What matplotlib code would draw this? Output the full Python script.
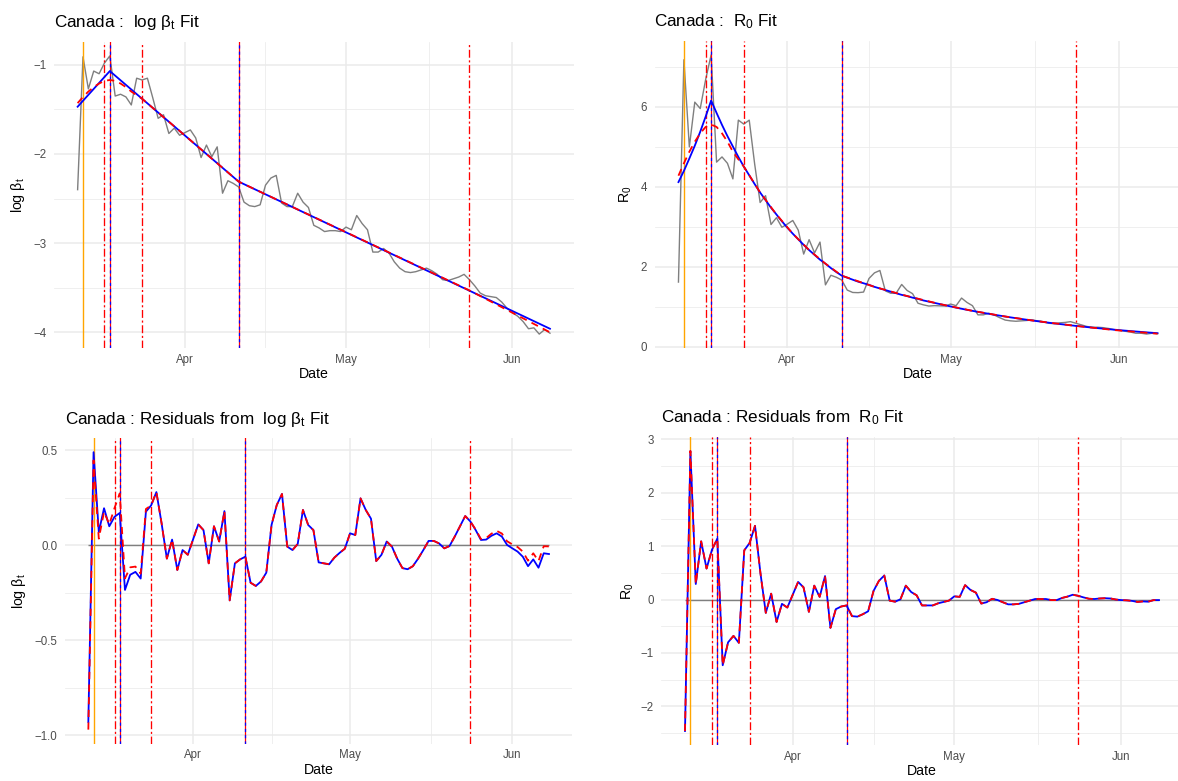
import numpy as np
import pandas as pd
import matplotlib
matplotlib.use("Agg")
import matplotlib.pyplot as plt
import matplotlib.dates as mdates
from matplotlib.ticker import FixedLocator, MultipleLocator, FuncFormatter

plt.rcParams["font.family"] = ["Liberation Sans", "DejaVu Sans"]
plt.rcParams["mathtext.fontset"] = "custom"
plt.rcParams["mathtext.rm"] = "Liberation Sans"
plt.rcParams["mathtext.it"] = "Liberation Sans:italic"
plt.rcParams["mathtext.bf"] = "Liberation Sans:bold"

country = "Canada"
start_date = "2020-03-12"
n_days = 89

# observed log beta_t, one value per day from Mar 12 to Jun 8
log_beta_obs = [
    -2.40, -0.91, -1.27, -1.07, -1.10, -0.98, -0.90, -1.35, -1.33, -1.36,
    -1.45, -1.15, -1.17, -1.15, -1.37, -1.60, -1.56, -1.77, -1.71, -1.79,
    -1.76, -1.73, -1.82, -2.04, -1.90, -2.03, -1.92, -2.44, -2.30, -2.33,
    -2.37, -2.54, -2.58, -2.59, -2.57, -2.35, -2.27, -2.24, -2.55, -2.59,
    -2.59, -2.44, -2.54, -2.60, -2.80, -2.83, -2.87, -2.86, -2.86, -2.87,
    -2.82, -2.85, -2.69, -2.78, -2.85, -3.10, -3.10, -3.06, -3.11, -3.21,
    -3.28, -3.32, -3.33, -3.32, -3.30, -3.28, -3.31, -3.35, -3.41, -3.42,
    -3.40, -3.38, -3.35, -3.41, -3.48, -3.56, -3.59, -3.60, -3.61, -3.66,
    -3.73, -3.78, -3.82, -3.88, -3.96, -3.95, -4.02, -3.97, -4.01,
]

# fitted log beta_t (blue: piecewise linear, red: smooth fit), knots in day offsets
blue_knot_days = [0, 6, 30, 88]
blue_knot_log = [-1.47, -1.07, -2.31, -3.96]
red_knot_days = [0, 1, 2, 3, 4, 5, 6, 7, 8, 9, 10, 11, 12, 30, 73, 88]
red_knot_log = [-1.43, -1.36, -1.30, -1.25, -1.21, -1.18, -1.17, -1.18,
                -1.21, -1.25, -1.30, -1.34, -1.38, -2.31, -3.53, -4.00]

# observed R0
r0_obs = [
    1.62, 7.18, 5.00, 6.12, 5.96, 6.69, 7.30, 4.62, 4.75, 4.59,
    4.20, 5.67, 5.57, 5.67, 4.57, 3.61, 3.78, 3.06, 3.23, 2.99,
    3.07, 3.16, 2.92, 2.32, 2.68, 2.35, 2.62, 1.55, 1.79, 1.74,
    1.67, 1.42, 1.36, 1.355, 1.37, 1.71, 1.85, 1.91, 1.40, 1.34,
    1.345, 1.56, 1.41, 1.33, 1.09, 1.05, 1.02, 1.03, 1.025, 1.02,
    1.07, 1.03, 1.22, 1.11, 1.03, 0.80, 0.80, 0.84, 0.795, 0.73,
    0.67, 0.65, 0.64, 0.65, 0.66, 0.67, 0.65, 0.63, 0.59, 0.58,
    0.60, 0.61, 0.63, 0.59, 0.55, 0.51, 0.49, 0.49, 0.48, 0.46,
    0.43, 0.41, 0.39, 0.37, 0.34, 0.34, 0.32, 0.34, 0.33,
]

# fitted R0 (blue), one value per day
r0_fit_blue = [
    4.12, 4.40, 4.71, 5.03, 5.38, 5.76, 6.16, 5.85, 5.55, 5.27,
    5.01, 4.75, 4.51, 4.29, 4.07, 3.86, 3.67, 3.48, 3.31, 3.14,
    2.98, 2.83, 2.69, 2.55, 2.42, 2.30, 2.18, 2.08, 1.97, 1.87,
    1.78, 1.73, 1.68, 1.63, 1.59, 1.55, 1.50, 1.46, 1.42, 1.38,
    1.34, 1.30, 1.27, 1.23, 1.20, 1.16, 1.13, 1.10, 1.07, 1.04,
    1.01, 0.98, 0.953, 0.926, 0.900, 0.875, 0.850, 0.826, 0.803, 0.781,
    0.759, 0.737, 0.717, 0.697, 0.677, 0.658, 0.640, 0.622, 0.604, 0.587,
    0.571, 0.555, 0.539, 0.524, 0.510, 0.495, 0.481, 0.468, 0.455, 0.442,
    0.430, 0.418, 0.406, 0.395, 0.384, 0.373, 0.362, 0.352, 0.342,
]

# fitted R0 (red), at selected day offsets
r0_red_days = [0, 1, 2, 3, 4, 5, 6, 7, 8, 9, 10, 11, 12, 15, 18, 21, 24, 27,
               30, 36, 42, 48, 54, 60, 66, 73, 80, 88]
r0_fit_red = [4.28, 4.59, 4.88, 5.13, 5.34, 5.50, 5.56, 5.50, 5.34, 5.13,
              4.88, 4.69, 4.51, 3.86, 3.31, 2.83, 2.42, 2.08, 1.78, 1.50,
              1.27, 1.07, 0.90, 0.759, 0.640, 0.524, 0.420, 0.328]

# residuals from log beta_t fits
resid_log_blue = [
    -0.93, 0.49, 0.07, 0.195, 0.10, 0.15, 0.17, -0.235, -0.155, -0.14,
    -0.175, 0.177, 0.21, 0.28, 0.115, -0.07, 0.03, -0.13, -0.025, -0.05,
    0.03, 0.11, 0.08, -0.095, 0.10, 0.02, 0.18, -0.29, -0.095, -0.074,
    -0.06, -0.197, -0.214, -0.19, -0.144, 0.107, 0.212, 0.27, -0.007, -0.025,
    0.007, 0.186, 0.107, 0.08, -0.09, -0.095, -0.10, -0.065, -0.04, -0.018,
    0.063, 0.054, 0.247, 0.186, 0.14, -0.083, -0.05, 0.02, -0.007, -0.07,
    -0.12, -0.126, -0.11, -0.07, -0.025, 0.023, 0.023, 0.01, -0.016, -0.004,
    0.046, 0.10, 0.154, 0.125, 0.08, 0.028, 0.03, 0.05, 0.063, 0.046,
    0.002, -0.016, -0.033, -0.06, -0.11, -0.074, -0.118, -0.042, -0.046,
]
resid_log_red = [
    -0.97, 0.447, 0.035, 0.176, 0.11, 0.196, 0.273, -0.174, -0.116, -0.112,
    -0.149, 0.191, 0.21, 0.28, 0.115, -0.07, 0.03, -0.13, -0.025, -0.05,
    0.03, 0.11, 0.08, -0.095, 0.10, 0.02, 0.18, -0.29, -0.095, -0.074,
    -0.06, -0.197, -0.214, -0.19, -0.144, 0.107, 0.212, 0.27, -0.007, -0.025,
    0.007, 0.186, 0.107, 0.08, -0.09, -0.095, -0.10, -0.065, -0.04, -0.018,
    0.063, 0.054, 0.247, 0.186, 0.14, -0.083, -0.05, 0.02, -0.007, -0.07,
    -0.12, -0.126, -0.11, -0.07, -0.025, 0.023, 0.023, 0.01, -0.016, -0.004,
    0.046, 0.10, 0.154, 0.125, 0.083, 0.033, 0.038, 0.061, 0.076, 0.062,
    0.021, 0.005, -0.009, -0.033, -0.081, -0.042, -0.083, -0.005, -0.006,
]

# residuals from R0 fit (both fits give the same curve here)
resid_r0 = [
    -2.46, 2.78, 0.29, 1.09, 0.58, 0.93, 1.14, -1.23, -0.80, -0.68,
    -0.81, 0.92, 1.06, 1.38, 0.50, -0.25, 0.11, -0.42, -0.08, -0.15,
    0.09, 0.33, 0.23, -0.23, 0.26, 0.05, 0.44, -0.53, -0.18, -0.13,
    -0.11, -0.31, -0.32, -0.275, -0.22, 0.16, 0.35, 0.45, -0.02, -0.04,
    0.005, 0.26, 0.14, 0.08, -0.11, -0.11, -0.11, -0.07, -0.045, -0.02,
    0.06, 0.05, 0.27, 0.18, 0.13, -0.075, -0.05, 0.014, -0.008, -0.05,
    -0.09, -0.09, -0.08, -0.05, -0.02, 0.01, 0.01, 0.01, -0.01, -0.01,
    0.03, 0.055, 0.09, 0.07, 0.04, 0.015, 0.01, 0.02, 0.025, 0.02,
    0.0, -0.01, -0.015, -0.025, -0.045, -0.035, -0.04, -0.01, -0.01,
]

# event / breakpoint dates
orange_date = "2020-03-13"
red_break_dates = ["2020-03-17", "2020-03-24", "2020-05-24"]
blue_break_dates = ["2020-03-18", "2020-04-11"]
minor_x_dates = ["2020-03-17 00:00", "2020-04-16 00:00", "2020-05-16 12:00"]

dates = pd.date_range(start_date, periods=n_days, freq="D")
t0 = pd.Timestamp(start_date)
blue_knot_dates = t0 + pd.to_timedelta(blue_knot_days, unit="D")
red_knot_dates = t0 + pd.to_timedelta(red_knot_days, unit="D")
r0_red_dates = t0 + pd.to_timedelta(r0_red_days, unit="D")

W, H = 1178, 781
fig = plt.figure(figsize=(W / 100, H / 100), dpi=100)


def panel(left, top, right, bottom):
    ax = fig.add_axes([left / W, 1 - bottom / H, (right - left) / W, (bottom - top) / H])
    ax.px_w = right - left
    ax.px_h = bottom - top
    return ax


def add_vlines(ax):
    ax.axvline(pd.Timestamp(orange_date), color="#FFA500", lw=1.0, zorder=3)
    for d in red_break_dates:
        ax.axvline(pd.Timestamp(d), color="red", lw=0.95, dashes=(6, 2, 1.6, 2), zorder=3)
    for d in blue_break_dates:
        ax.axvline(pd.Timestamp(d), color="red", lw=0.9, zorder=3)
        ax.axvline(pd.Timestamp(d), color="blue", lw=0.9, dashes=(2.5, 2.5), zorder=3)


def style(ax, title, ylabel, ylab_off, fmt, ymajor, yminor):
    ax.set_axisbelow(True)
    for s in ax.spines.values():
        s.set_visible(False)
    ax.xaxis.set_major_locator(mdates.MonthLocator())
    ax.xaxis.set_major_formatter(mdates.DateFormatter("%b"))
    minor_pos = [mdates.date2num(pd.Timestamp(d)) for d in minor_x_dates]
    ax.xaxis.set_minor_locator(FixedLocator(minor_pos))
    ax.yaxis.set_major_locator(MultipleLocator(ymajor))
    ax.yaxis.set_minor_locator(MultipleLocator(yminor))
    ax.yaxis.set_major_formatter(FuncFormatter(lambda v, p: fmt.format(v + 0).replace("-", "\u2212")))
    ax.grid(which="major", color="#EBEBEB", lw=1.1)
    ax.grid(which="minor", color="#EBEBEB", lw=0.55)
    ax.tick_params(which="both", length=0, labelsize=8.3, labelcolor="#4D4D4D")
    ax.tick_params(axis="x", pad=4)
    ax.tick_params(axis="y", pad=5.5)
    ax.set_title(title, loc="left", fontsize=12.3, pad=10.5)
    ax.set_xlabel("Date", fontsize=10.2)
    ax.xaxis.set_label_coords(0.5, -19 / ax.px_h)
    ax.set_ylabel(ylabel, fontsize=10.2)
    ax.yaxis.label.set_va("center")
    ax.yaxis.label.set_ha("center")
    ax.yaxis.set_label_coords(-ylab_off / ax.px_w, 0.5)


log_lab = "log \u03b2$_\\mathrm{t}$"
r0_lab = "R$_0$"

# top left: log beta_t fit
ax1 = panel(54, 42, 573.6, 348)
ax1.plot(dates, log_beta_obs, color="#7F7F7F", lw=1.0, zorder=2)
add_vlines(ax1)
ax1.plot(blue_knot_dates, blue_knot_log, color="blue", lw=1.3, zorder=4)
ax1.plot(red_knot_dates, red_knot_log, color="red", lw=1.3, dashes=(4, 3), zorder=5)
style(ax1, f"{country} :  {log_lab} Fit", log_lab, 36, "{:.0f}", 1, 0.5)

# top right: R0 fit
ax2 = panel(654.5, 41, 1181.5, 348)
ax2.plot(dates, r0_obs, color="#7F7F7F", lw=1.0, zorder=2)
add_vlines(ax2)
ax2.plot(dates, r0_fit_blue, color="blue", lw=1.3, zorder=4)
ax2.plot(r0_red_dates, r0_fit_red, color="red", lw=1.3, dashes=(4, 3), zorder=5)
style(ax2, f"{country} :  {r0_lab} Fit", r0_lab, 29, "{:.0f}", 2, 1)

# bottom left: residuals of log beta_t
ax3 = panel(65.3, 438.3, 572, 743.5)
ax3.hlines(0, dates[0], dates[-1], color="#7F7F7F", lw=1.0, zorder=2)
add_vlines(ax3)
ax3.plot(dates, resid_log_blue, color="blue", lw=1.3, zorder=4)
ax3.plot(dates, resid_log_red, color="red", lw=1.3, dashes=(4, 3), zorder=5)
style(ax3, f"{country} : Residuals from  {log_lab} Fit", log_lab, 46, "{:.1f}", 0.5, 0.25)

# bottom right: residuals of R0
ax4 = panel(661.3, 437, 1182.7, 745)
ax4.hlines(0, dates[0], dates[-1], color="#7F7F7F", lw=1.0, zorder=2)
add_vlines(ax4)
ax4.plot(dates, resid_r0, color="blue", lw=1.3, zorder=4)
ax4.plot(dates, resid_r0, color="red", lw=1.3, dashes=(4, 3), zorder=5)
style(ax4, f"{country} : Residuals from  {r0_lab} Fit", r0_lab, 33, "{:.0f}", 1, 0.5)

fig.savefig("out.png", dpi=100)
